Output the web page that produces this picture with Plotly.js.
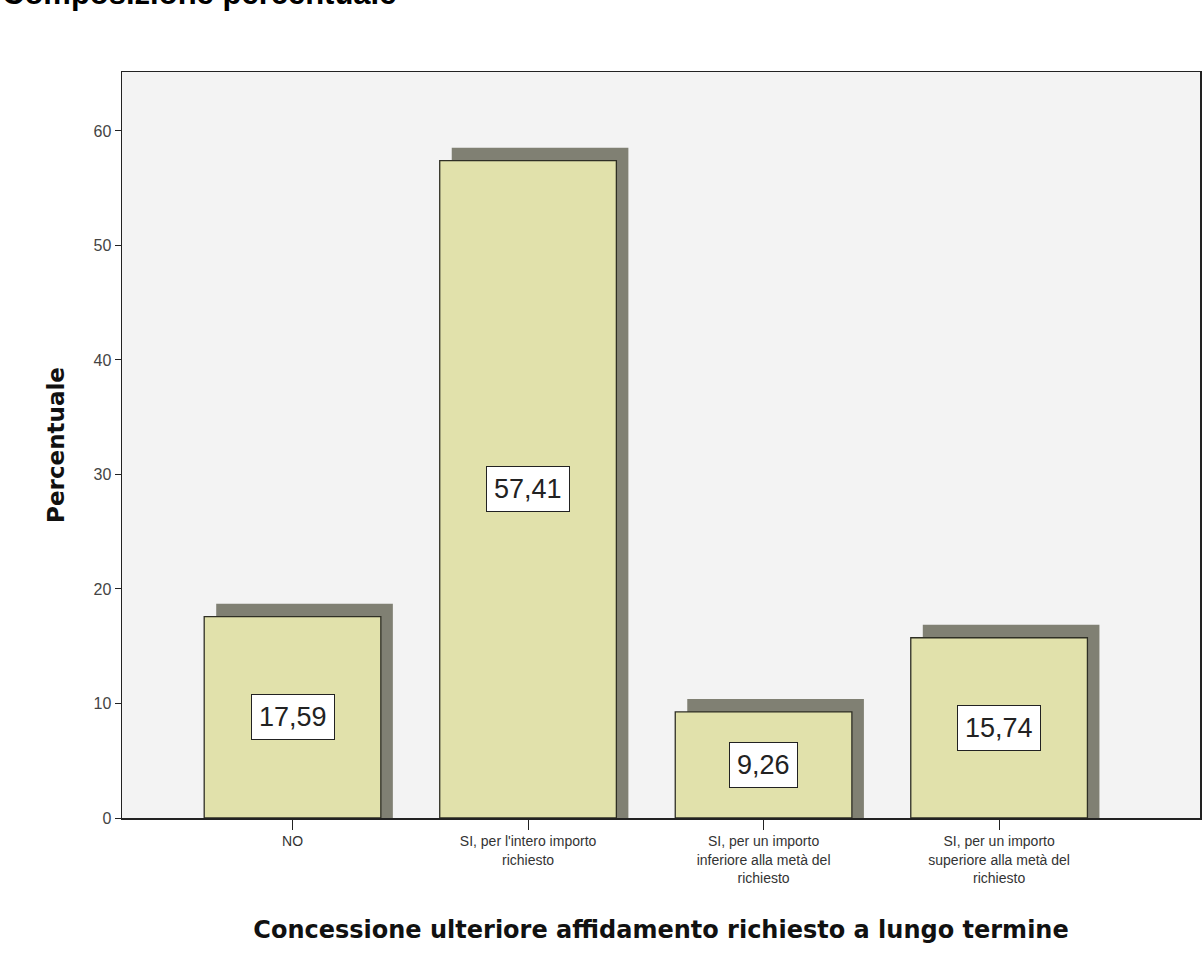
<!DOCTYPE html>
<html><head><meta charset="utf-8">
<script src="https://cdn.plot.ly/plotly-3.0.1.min.js"></script>
<style>html,body{margin:0;padding:0;background:#fff}#chart{width:1202px;height:964px}</style>
</head><body><div id="chart"></div>
<script>
// ---- data ----
const categories = [
  "NO",
  "SI, per l'intero importo<br>richiesto",
  "SI, per un importo<br>inferiore alla metà del<br>richiesto",
  "SI, per un importo<br>superiore alla metà del<br>richiesto"
];
const percentages = [17.59, 57.41, 9.26, 15.74];
const valueLabels = ["17,59", "57,41", "9,26", "15,74"];
const yTickValues = [0, 10, 20, 30, 40, 50, 60];
const chartTitle = "Composizione percentuale";
const xTitle = "Concessione ulteriore affidamento richiesto a lungo termine";
const yTitle = "Percentuale";

// ---- styling ----
const positions = categories.map((c, i) => i);
const barWidth = 0.75;
const shadowDx = 0.051;   // category units
const shadowDy = 1.13;    // value units

const shadow = {
  type: 'bar', x: positions, y: percentages.map(v => v + shadowDy),
  width: barWidth, offset: -barWidth / 2 + shadowDx,
  marker: {color: '#808073', line: {width: 0}},
  hoverinfo: 'skip', showlegend: false
};
const bars = {
  type: 'bar', x: positions, y: percentages,
  width: barWidth, offset: -barWidth / 2,
  marker: {color: '#e1e1ab', line: {color: '#2f2f25', width: 1.3}},
  showlegend: false
};

const annotations = percentages.map((v, i) => ({
  x: positions[i], y: v / 2, xref: 'x', yref: 'y',
  text: valueLabels[i], showarrow: false,
  font: {family: 'Liberation Sans, Arial, sans-serif', size: 27, color: '#222'},
  bgcolor: '#ffffff', bordercolor: '#222', borderwidth: 1, borderpad: 7
}));
annotations.push({
  text: '<b>' + chartTitle + '</b>', showarrow: false,
  xref: 'paper', yref: 'paper', x: -122 / 1078, y: 1 + (72 - 13) / 746,
  xanchor: 'left', yanchor: 'bottom',
  font: {family: 'Liberation Sans, Arial, sans-serif', size: 31, color: '#000'}
});

const layout = {
  width: 1202, height: 964,
  margin: {l: 122, r: 2, t: 72, b: 146, pad: 0},
  paper_bgcolor: '#ffffff', plot_bgcolor: '#f3f3f3',
  barmode: 'overlay',
  showlegend: false,
  xaxis: {
    type: 'linear', range: [-0.724, 3.853],
    tickvals: positions, ticktext: categories,
    ticks: 'outside', ticklen: 10, tickcolor: '#222', tickwidth: 1,
    showgrid: false, zeroline: false,
    showline: true, linecolor: '#222', linewidth: 1.5, mirror: true,
    tickfont: {family: 'Liberation Sans, Arial, sans-serif', size: 14, color: '#333'},
    title: {text: '<b>' + xTitle + '</b>', standoff: 36,
            font: {family: 'DejaVu Sans, sans-serif', size: 24, color: '#111'}},
    automargin: false, fixedrange: true
  },
  yaxis: {
    range: [0, 65.15], tickvals: yTickValues,
    ticks: 'outside', ticklen: 6, tickcolor: '#222', tickwidth: 1,
    showgrid: false, zeroline: false,
    showline: true, linecolor: '#222', linewidth: 1.5, mirror: true,
    tickfont: {family: 'Liberation Sans, Arial, sans-serif', size: 16, color: '#444'},
    title: {text: '<b>' + yTitle + '</b>', standoff: 22,
            font: {family: 'DejaVu Sans, sans-serif', size: 23, color: '#111'}},
    automargin: false, fixedrange: true
  },
  annotations: annotations
};

Plotly.newPlot('chart', [shadow, bars], layout, {staticPlot: true, displayModeBar: false});
</script>
</body></html>
